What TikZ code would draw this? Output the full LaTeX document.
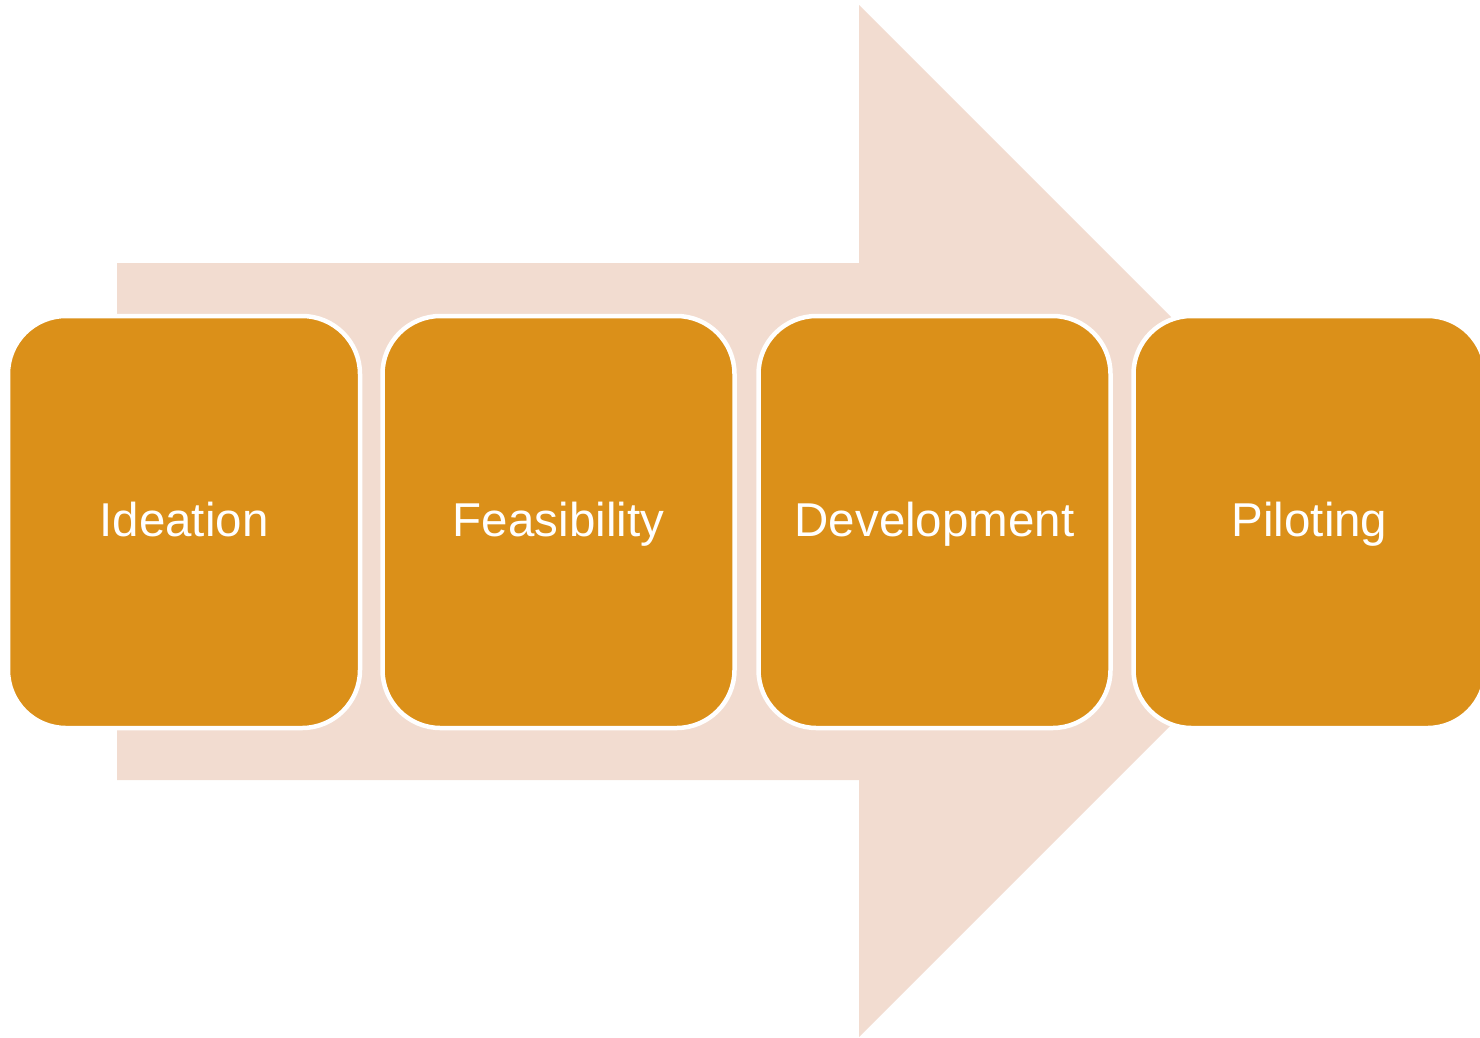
\documentclass[tikz,border=0pt]{standalone}
\usepackage{fontspec}
\setmainfont{Liberation Sans}
\definecolor{boxfill}{RGB}{219,144,25}
\definecolor{arrowfill}{RGB}{242,220,208}
\begin{document}
\begin{tikzpicture}[x=1pt,y=-1pt,
  stage/.style={draw=white, line width=4.5pt, fill=boxfill, rounded corners=58pt,
    minimum width=352pt, minimum height=412pt, inner sep=0pt, outer sep=0pt,
    text height=28pt, text depth=0pt,
    text=white, font=\fontsize{47.5}{56}\selectfont}]
\useasboundingbox (0,0) rectangle (1480,1037);
\fill[arrowfill] (117,263) -- (859,263) -- (859,5) -- (1375,521) -- (859,1037) -- (859,780) -- (117,780) -- cycle;
\node[stage] (ideation) at (184,522) {Ideation};
\node[stage] (feasibility) at (558.5,522) {Feasibility};
\node[stage] (development) at (934.5,522) {Development};
\node[stage] (piloting) at (1309.5,522) {Piloting};
\end{tikzpicture}
\end{document}
